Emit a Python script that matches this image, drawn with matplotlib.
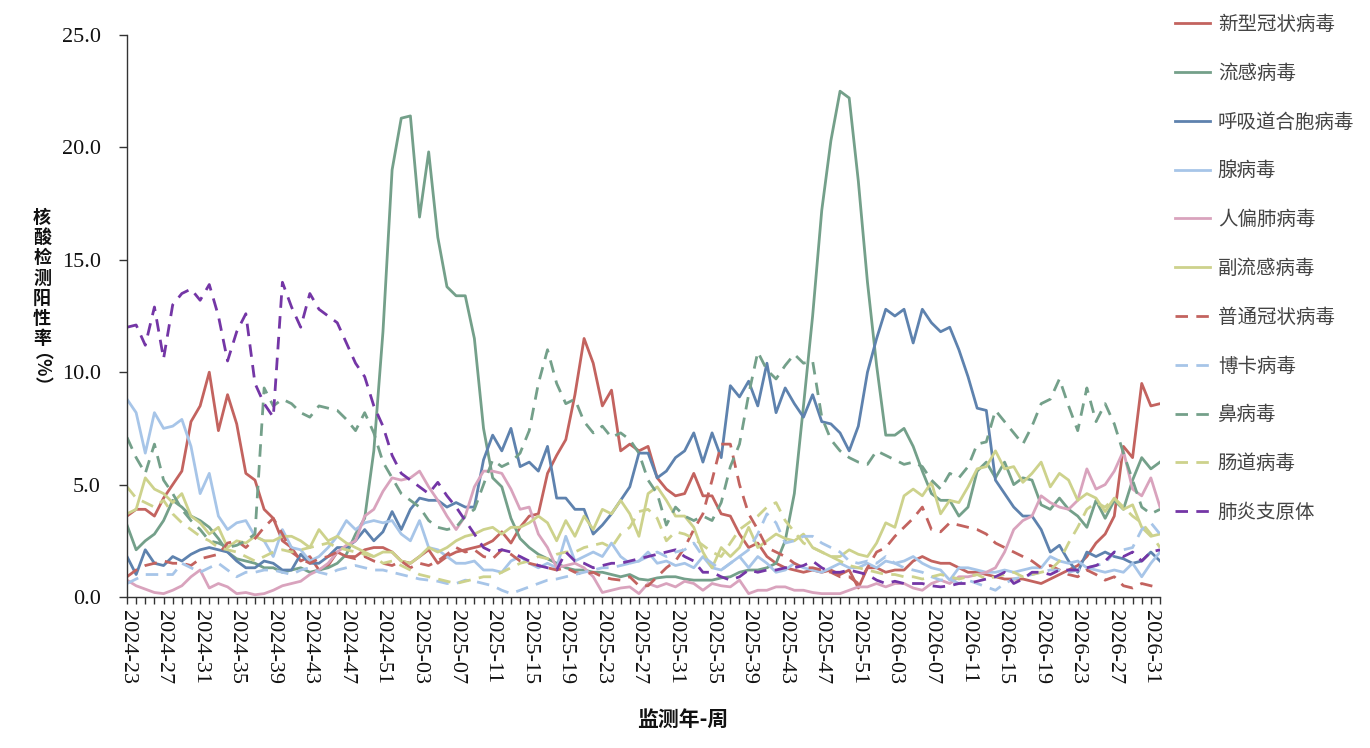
import matplotlib
matplotlib.use('Agg')
import matplotlib.pyplot as plt
from matplotlib.ticker import FormatStrFormatter
import numpy as np

# ---------------- data ----------------
weeks = ([f"2024-{w:02d}" for w in range(23, 53)]
         + [f"2025-{w:02d}" for w in range(1, 53)]
         + [f"2026-{w:02d}" for w in range(1, 33)])

covid = [3.6, 3.9, 3.9, 3.6, 4.4, 5.0, 5.6, 7.8, 8.5, 10.0,
         7.4, 9.0, 7.7, 5.5, 5.2, 3.9, 3.5, 2.5, 2.2, 1.6,
         1.8, 1.2, 1.4, 2.0, 1.8, 1.8, 2.1, 2.2, 2.2, 2.0,
         1.6, 1.5, 1.8, 2.1, 1.5, 1.8, 2.0, 2.1, 2.2, 2.3,
         2.5, 2.9, 2.4, 3.1, 3.6, 3.7, 5.5, 6.3, 7.0, 9.0,
         11.5, 10.4, 8.5, 9.2, 6.5, 6.8, 6.5, 6.7, 5.3, 4.8,
         4.5, 4.6, 5.5, 4.5, 4.5, 3.7, 3.6, 2.8, 2.2, 2.4,
         1.8, 1.5, 1.3, 1.2, 1.1, 1.2, 1.1, 1.2, 1.0, 1.2,
         0.4, 1.3, 1.3, 1.1, 1.2, 1.2, 1.6, 1.8, 1.6, 1.5,
         1.5, 1.3, 1.1, 1.1, 1.0, 0.9, 0.8, 0.8, 0.8, 0.7,
         0.6, 0.8, 1.0, 1.2, 1.4, 1.8, 2.4, 2.8, 3.6, 6.7,
         6.2, 9.5, 8.5, 8.6]

flu = [3.2, 2.1, 2.5, 2.8, 3.4, 4.3, 4.0, 3.6, 3.4, 3.1,
       2.6, 2.0, 1.7, 1.6, 1.5, 1.3, 1.3, 1.1, 1.2, 1.3,
       1.1, 1.2, 1.3, 1.5, 1.9, 2.8, 3.5, 6.5, 11.8, 19.0,
       21.3, 21.4, 16.9, 19.8, 16.0, 13.8, 13.4, 13.4, 11.5, 7.5,
       5.3, 4.9, 3.5, 2.6, 2.2, 1.9, 1.7, 1.5, 1.3, 1.2,
       1.2, 1.1, 1.1, 1.0, 0.9, 1.0, 0.8, 0.75, 0.85, 0.9,
       0.9, 0.8, 0.75, 0.75, 0.75, 0.85, 0.9, 1.1, 1.2, 1.2,
       1.3, 1.5, 2.5, 4.6, 8.5, 12.5, 17.2, 20.3, 22.5, 22.2,
       18.5, 14.0, 10.3, 7.2, 7.2, 7.5, 6.7, 5.6, 4.6, 4.3,
       4.3, 3.6, 4.0, 5.6, 6.0, 5.3, 6.0, 5.0, 5.3, 5.2,
       4.1, 3.9, 4.4, 3.9, 3.6, 3.1, 4.3, 3.5, 4.3, 3.9,
       5.2, 6.2, 5.7, 6.0]

rsv = [1.8, 1.0, 2.1, 1.5, 1.4, 1.8, 1.6, 1.9, 2.1, 2.2,
       2.1, 2.0, 1.6, 1.3, 1.3, 1.6, 1.5, 1.2, 1.2, 1.9,
       1.5, 1.5, 1.8, 2.2, 2.2, 2.5, 3.0, 2.5, 2.9, 3.8,
       3.0, 3.9, 4.4, 4.3, 4.3, 4.0, 4.2, 4.0, 4.0, 6.1,
       7.2, 6.5, 7.5, 5.8, 6.0, 5.6, 6.7, 4.4, 4.4, 3.9,
       3.9, 2.8, 3.2, 3.7, 4.3, 4.9, 6.4, 6.4, 5.3, 5.6,
       6.2, 6.5, 7.3, 6.0, 7.3, 6.2, 9.4, 8.9, 9.6, 8.5,
       10.4, 8.2, 9.3, 8.6, 8.0, 9.0, 7.8, 7.7, 7.3, 6.5,
       7.6, 10.0, 11.5, 12.8, 12.5, 12.8, 11.3, 12.8, 12.2, 11.8,
       12.0, 11.0, 9.8, 8.4, 8.3, 5.2, 4.6, 4.0, 3.6, 3.6,
       3.0, 2.0, 2.3, 1.6, 1.1, 2.0, 1.8, 2.0, 1.8, 1.7,
       1.5, 1.6, 2.0, 1.6]

adeno = [8.8, 8.2, 6.4, 8.2, 7.5, 7.6, 7.9, 6.7, 4.6, 5.5,
         3.6, 3.0, 3.3, 3.4, 2.7, 2.5, 1.8, 3.0, 2.2, 2.1,
         1.6, 1.8, 2.2, 2.7, 3.4, 3.0, 3.3, 3.4, 3.3, 3.4,
         2.8, 2.5, 3.4, 2.2, 2.1, 1.8, 1.5, 1.5, 1.6, 1.2,
         1.2, 1.1, 1.6, 1.8, 1.5, 1.3, 1.5, 1.3, 2.7, 1.6,
         1.8, 2.0, 1.8, 2.4, 1.8, 1.5, 1.6, 2.0, 1.5, 1.6,
         1.4, 1.5, 1.3, 1.8, 1.3, 1.2, 1.5, 1.8, 1.3, 1.8,
         1.5, 1.1, 1.2, 1.5, 1.3, 1.2, 1.1, 1.3, 1.5, 1.3,
         1.3, 1.5, 1.3, 1.6, 1.5, 1.6, 1.8, 1.5, 1.3, 1.2,
         0.75, 1.3, 1.3, 1.2, 1.1, 1.1, 1.2, 1.1, 1.2, 1.3,
         1.3, 1.8, 1.6, 1.5, 1.6, 1.3, 1.2, 1.1, 1.2, 1.1,
         1.5, 0.9, 1.5, 2.0]

hmpv = [0.75, 0.5, 0.35, 0.2, 0.15, 0.3, 0.5, 0.9, 1.2, 0.4,
        0.6, 0.45, 0.15, 0.2, 0.1, 0.15, 0.3, 0.5, 0.6, 0.7,
        1.0, 1.2, 1.5, 2.0, 2.3, 2.5, 3.6, 3.9, 4.7, 5.3,
        5.2, 5.3, 5.6, 4.9, 4.3, 3.6, 3.0, 3.6, 4.9, 5.6,
        5.6, 5.5, 4.8, 3.9, 4.0, 2.8, 2.2, 1.3, 1.4, 1.5,
        1.3, 0.9, 0.2, 0.3, 0.4, 0.45, 0.15, 0.6, 0.45, 0.6,
        0.45, 0.7, 0.6, 0.3, 0.6, 0.5, 0.45, 0.75, 0.15, 0.3,
        0.3, 0.45, 0.45, 0.3, 0.3, 0.2, 0.15, 0.15, 0.15, 0.3,
        0.45, 0.45, 0.6, 0.45, 0.6, 0.6, 0.4, 0.3, 0.6, 0.75,
        0.6, 0.9, 0.9, 1.0, 1.1, 1.3, 2.0, 3.0, 3.4, 3.6,
        4.5, 4.2, 4.0, 3.9, 4.3, 5.7, 4.8, 5.0, 5.6, 6.5,
        4.8, 4.5, 5.3, 4.0]

para = [3.7, 3.9, 5.3, 4.8, 4.6, 4.2, 4.6, 3.6, 3.3, 2.8,
        3.1, 2.2, 2.5, 2.4, 2.7, 2.5, 2.5, 2.7, 2.7, 2.5,
        2.2, 3.0, 2.5, 2.7, 2.4, 2.2, 2.0, 1.8, 2.0, 2.0,
        1.6, 1.5, 1.8, 2.2, 2.0, 2.2, 2.5, 2.7, 2.8, 3.0,
        3.1, 2.8, 3.1, 3.1, 3.3, 3.6, 3.3, 2.5, 3.4, 2.7,
        3.6, 3.0, 3.9, 3.7, 4.3, 3.7, 2.7, 4.6, 4.9, 4.3,
        3.6, 3.6, 3.1, 2.0, 1.3, 2.2, 1.8, 2.2, 3.1, 2.2,
        2.5, 2.8, 2.6, 2.5, 2.8, 2.2, 2.0, 1.8, 1.8, 2.1,
        1.9, 1.8, 2.4, 3.3, 3.1, 4.5, 4.8, 4.5, 5.1, 3.7,
        4.3, 4.2, 4.9, 5.7, 5.8, 6.5, 5.7, 5.8, 5.1, 5.5,
        6.0, 4.9, 5.5, 5.2, 4.3, 4.6, 4.4, 3.8, 4.4, 3.9,
        4.1, 3.1, 2.7, 2.8]

hcov = [0.9, 1.2, 1.4, 1.5, 1.6, 1.5, 1.5, 1.4, 1.7, 1.8,
        1.9, 2.4, 2.5, 2.2, 2.6, 3.1, 3.5, 2.8, 2.0, 1.7,
        1.5, 1.7, 1.8, 2.0, 1.8, 1.7, 1.8, 1.6, 1.5, 1.4,
        1.6, 1.3, 1.5, 1.4, 1.6, 1.9, 2.2, 2.0, 2.1, 1.8,
        1.7, 2.1, 1.9, 1.6, 1.5, 1.4, 1.3, 1.2, 1.3, 1.1,
        1.0, 1.1, 0.9, 0.8, 0.75, 0.9, 0.5, 0.5, 0.9, 1.3,
        1.6, 2.2, 3.0, 3.7, 5.2, 6.8, 6.8, 5.0, 3.7, 3.0,
        2.2, 2.0, 1.8, 1.5, 1.3, 1.3, 1.2, 1.1, 0.9, 0.9,
        0.6, 1.3, 2.0, 2.2, 2.7, 3.1, 3.5, 4.0, 3.0, 2.9,
        3.3, 3.2, 3.1, 3.0, 2.8, 2.4, 2.2, 2.0, 1.8, 1.6,
        1.3, 1.4, 1.2, 1.0, 0.9, 1.2, 1.0, 0.75, 0.9, 0.5,
        0.4, 0.6, 0.5, 0.4]

boca = [0.6, 0.8, 1.0, 1.0, 1.0, 1.0, 1.5, 1.3, 1.1, 1.3,
        1.5, 1.2, 0.9, 1.1, 1.1, 1.2, 1.2, 1.1, 1.0, 1.2,
        1.3, 1.1, 1.0, 1.2, 1.3, 1.4, 1.3, 1.2, 1.2, 1.1,
        1.0, 0.9, 0.8, 0.75, 0.7, 0.6, 0.6, 0.75, 0.7, 0.6,
        0.5, 0.3, 0.15, 0.3, 0.45, 0.6, 0.75, 0.8, 0.9, 1.0,
        1.1, 1.2, 1.3, 1.3, 1.4, 1.5, 1.6, 1.8, 2.0, 1.8,
        2.0, 2.1, 2.4, 1.8, 1.5, 1.2, 1.5, 1.8, 2.1, 2.8,
        3.7, 3.3, 2.4, 2.5, 2.7, 2.7, 2.4, 2.2, 2.0, 1.6,
        1.5, 1.6, 1.5, 1.8, 1.5, 1.3, 1.2, 1.1, 0.9, 0.75,
        0.8, 0.6, 0.75, 0.6, 0.45, 0.3, 0.6, 0.8, 0.9, 1.0,
        1.1, 1.2, 1.2, 1.1, 1.2, 1.3, 1.4, 1.5, 2.0, 2.1,
        2.2, 3.0, 3.3, 2.8]

rhino = [7.1, 6.2, 5.5, 6.8, 5.2, 4.6, 3.9, 3.4, 3.0, 2.5,
         2.4, 2.2, 2.3, 2.5, 2.8, 9.3, 8.5, 8.8, 8.6, 8.2,
         8.0, 8.5, 8.4, 8.3, 7.9, 7.4, 8.2, 7.3, 6.0, 5.3,
         4.6, 4.3, 4.0, 3.4, 3.1, 3.0, 3.1, 3.6, 3.9, 5.0,
         6.1, 5.8, 6.0, 6.4, 7.4, 9.5, 11.0, 9.5, 8.6, 8.8,
         7.8, 7.3, 7.6, 7.1, 7.3, 7.0, 6.4, 5.2, 4.6, 3.2,
         4.0, 3.6, 3.4, 3.6, 3.4, 4.2, 5.8, 6.8, 9.0, 10.9,
         10.1, 9.7, 10.3, 10.8, 10.4, 10.5, 8.0, 7.0, 6.5, 6.2,
         6.0, 5.9, 6.5, 6.3, 6.1, 5.9, 6.0, 5.8, 5.2, 4.8,
         5.5, 5.3, 5.8, 6.8, 6.9, 8.3, 7.8, 7.3, 6.8, 7.6,
         8.6, 8.8, 9.7, 8.5, 7.4, 9.3, 7.8, 8.6, 7.7, 6.4,
         5.2, 4.0, 3.7, 3.9]

entero = [4.9, 4.4, 4.2, 4.0, 4.3, 3.7, 3.3, 3.0, 2.7, 2.5,
          2.2, 2.1, 2.0, 1.8, 1.6, 1.8, 2.0, 2.1, 2.0, 2.1,
          2.2, 2.3, 2.4, 2.2, 2.1, 2.0, 1.9, 1.8, 1.5, 1.6,
          1.4, 1.2, 1.0, 0.9, 0.8, 0.7, 0.6, 0.7, 0.8, 0.9,
          0.9, 1.1, 1.3, 1.5, 1.6, 1.8, 1.7, 1.9, 2.0, 2.0,
          2.2, 2.3, 2.4, 2.2, 2.8, 3.1, 3.8, 3.9, 3.5, 2.5,
          2.9, 2.8, 2.6, 2.3, 2.0, 1.8, 2.4, 3.0, 3.3, 3.6,
          4.0, 4.2, 3.4, 2.9, 2.4, 2.2, 2.0, 1.8, 1.6, 1.4,
          1.3, 1.2, 1.1, 1.0, 1.0, 0.9, 0.9, 0.8, 0.9, 1.0,
          0.9, 0.8, 0.9, 1.0, 0.8, 0.9, 1.0, 1.1, 0.9, 1.0,
          1.1, 1.2, 1.6, 2.4, 3.1, 3.9, 4.2, 4.0, 4.4, 4.0,
          3.6, 3.3, 2.8, 2.2]

myco = [12.0, 12.1, 11.2, 12.9, 10.6, 13.0, 13.5, 13.7, 13.2, 13.9,
        12.5, 10.5, 11.8, 12.6, 9.5, 8.6, 8.0, 14.0, 12.9, 12.0,
        13.5, 12.8, 12.5, 12.2, 11.3, 10.4, 9.8, 8.5, 7.6, 6.3,
        5.5, 5.2, 4.9, 4.6, 5.1, 4.5, 4.0, 3.4, 2.8, 2.2,
        2.0, 2.1, 2.0, 1.8, 1.6, 1.4, 1.3, 1.2, 2.0, 1.6,
        1.5, 1.3, 1.4, 1.5, 1.5, 1.6, 1.7, 1.8, 1.9, 2.0,
        2.1, 1.8, 1.6, 1.1, 1.1, 0.9, 0.75, 0.9, 1.2, 1.1,
        1.2, 1.2, 1.3, 1.3, 1.4, 1.6, 1.3, 1.1, 1.1, 1.2,
        1.1, 1.0, 0.75, 0.6, 0.7, 0.6, 0.6, 0.6, 0.5, 0.45,
        0.5, 0.6, 0.6, 0.7, 0.8, 0.9, 1.1, 0.6, 0.8, 1.1,
        1.1, 1.0, 1.2, 1.2, 1.2, 1.3, 1.4, 1.6, 2.0, 1.8,
        2.0, 1.6, 2.0, 2.1]

series_names = ["新型冠状病毒", "流感病毒", "呼吸道合胞病毒", "腺病毒", "人偏肺病毒",
                "副流感病毒", "普通冠状病毒", "博卡病毒", "鼻病毒", "肠道病毒", "肺炎支原体"]
series_values = [covid, flu, rsv, adeno, hmpv, para, hcov, boca, rhino, entero, myco]
series_colors = ["#C3635F", "#74A08A", "#5E82AE", "#A7C5E8", "#D9A3BD", "#CDD28C",
                 "#C3635F", "#A7C5E8", "#74A08A", "#CDD28C", "#7436A6"]
series_dashed = [False, False, False, False, False, False, True, True, True, True, True]

y_ticks = [0, 5, 10, 15, 20, 25]

# ---------------- figure ----------------
CJK = ['Noto Sans CJK SC', 'DejaVu Sans']
SERIF = ['Liberation Serif', 'DejaVu Serif']

W, H = 1370, 748
fig = plt.figure(figsize=(W / 100, H / 100), dpi=100)
ax = fig.add_axes([127 / W, 1 - 597 / H, (1160 - 127) / W, (597 - 35) / H])

x = np.arange(len(weeks))
handles = []
for name, vals, col, dsh in zip(series_names, series_values, series_colors, series_dashed):
    if dsh:
        ln, = ax.plot(x, vals, color=col, lw=2.0, dashes=(4.5, 3.0), solid_joinstyle='round')
    else:
        ln, = ax.plot(x, vals, color=col, lw=2.0, solid_joinstyle='round')
    handles.append(ln)

ax.set_xlim(0, len(weeks) - 1)
ax.set_ylim(0, 25)
ax.set_yticks(y_ticks)
ax.yaxis.set_major_formatter(FormatStrFormatter('%.1f'))
ax.set_xticks(x[::4])
ax.set_xticklabels(weeks[::4], rotation=270, ha='center', va='top')
ax.set_xticks(x, minor=True)

for s in ['top', 'right']:
    ax.spines[s].set_visible(False)
for s in ['left', 'bottom']:
    ax.spines[s].set_color('#333333')
    ax.spines[s].set_linewidth(1.0)

ax.tick_params(axis='y', which='major', direction='out', length=6, width=1,
               color='#333333', pad=13, labelsize=16)
ax.tick_params(axis='x', which='both', direction='out', length=5, width=1,
               color='#333333', pad=4, labelsize=16)
for lab in ax.get_xticklabels() + ax.get_yticklabels():
    lab.set_family(SERIF)
    lab.set_color('#111111')

# legend
leg = fig.legend(handles, series_names, loc='upper left',
                 bbox_to_anchor=(1175 / W, 1 - 14 / H), frameon=False,
                 prop={'family': CJK, 'size': 14}, labelcolor='#444444',
                 handlelength=1.8, handletextpad=0.4, labelspacing=1.43,
                 borderaxespad=0, borderpad=0)

# axis titles
fig.text(42 / W, 1 - 278 / H, "核\n酸\n检\n测\n阳\n性\n率", ha='center', va='center',
         family=CJK, fontsize=13, fontweight='bold', linespacing=1.08, color='#111111')
fig.text(30 / W, 1 - 379 / H, "（%）", ha='center', va='center', rotation=270,
         family=CJK, fontsize=13, fontweight='bold', color='#111111')
fig.text(683 / W, 1 - 719 / H, "监测年-周", ha='center', va='center',
         family=CJK, fontsize=15, fontweight='bold', color='#111111')

fig.savefig('out.png', dpi=100)
